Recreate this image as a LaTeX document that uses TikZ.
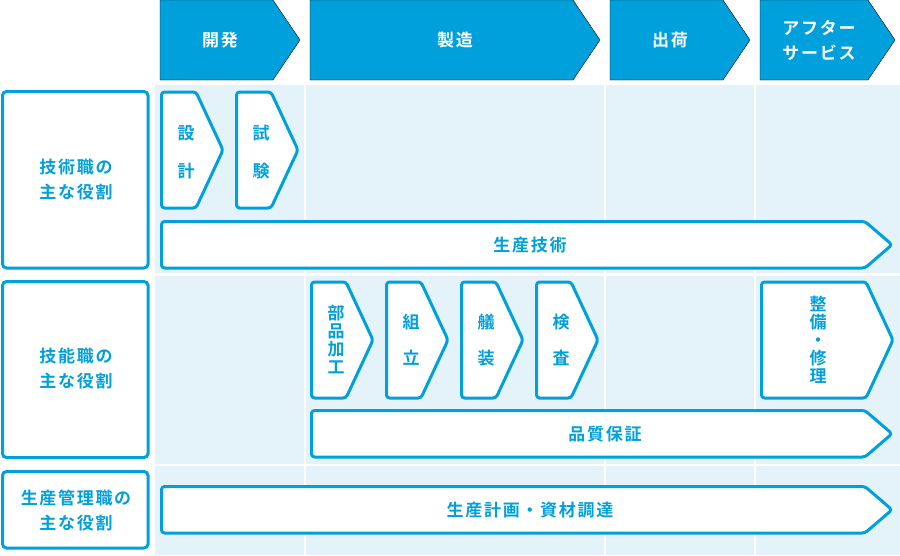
\documentclass[tikz,border=0pt]{standalone}
\usepackage{fontspec}
\setmainfont{Noto Sans CJK JP}[BoldFont={Noto Sans CJK JP Bold},LetterSpace=10]
\definecolor{mainblue}{RGB}{0,160,220}
\definecolor{cellbg}{RGB}{228,242,250}
\tikzset{
  hdr/.style={fill=mainblue},
  chevbox/.style={draw=mainblue,fill=white,line width=3pt,rounded corners=3pt,line join=round},
  labbox/.style={draw=mainblue,fill=white,line width=3pt,rounded corners=4pt},
  hdrtxt/.style={text=white,font=\fontsize{17}{25}\selectfont\bfseries,align=center,inner sep=0pt},
  bluetxt/.style={text=mainblue,font=\fontsize{17}{25}\selectfont\bfseries,align=center,inner sep=0pt},
  vtxt/.style={text=mainblue,font=\fontsize{17}{18}\selectfont\bfseries,align=center,inner sep=0pt},
}
\newcommand{\chevpath}[5][]{% x1 y1 x2 y2
  \draw[#1] (#2,#3) -- ({#4-27},#3) -- (#4,{(#3+#5)/2}) -- ({#4-27},#5) -- (#2,#5) -- cycle;}
\begin{document}
\begin{tikzpicture}[x=1pt,y=-1pt]
\useasboundingbox (0,0) rectangle (900,555);
% background grid
\fill[cellbg] (155,85) rectangle (900,555);
\draw[white,line width=2.2pt] (305,85) -- (305,555) (605,85) -- (605,555) (755,85) -- (755,555);
\draw[white,line width=2.2pt] (155,274.5) -- (900,274.5) (155,465) -- (900,465);
% header arrows
\chevpath[hdr]{160}{0}{300}{80}
\chevpath[hdr]{310}{0}{600}{80}
\chevpath[hdr]{610}{0}{750}{80}
\chevpath[hdr]{760}{0}{895}{80}
\node[hdrtxt] (h1) at (220,40) {開発};
\node[hdrtxt] (h2) at (455,40) {製造};
\node[hdrtxt] (h3) at (670,40) {出荷};
\node[hdrtxt] (h4) at (819,40) {アフター\\サービス};
% left labels
\draw[labbox] (2.5,91.5) rectangle (148,268);
\draw[labbox] (2.5,281.5) rectangle (148,457.5);
\draw[labbox] (2.5,471.5) rectangle (148,548);
\node[bluetxt] (l1) at (76,180) {技術職の\\主な役割};
\node[bluetxt] (l2) at (76,369) {技能職の\\主な役割};
\node[bluetxt] (l3) at (76,510) {生産管理職の\\主な役割};
% row 1
\chevpath[chevbox]{161.5}{92}{223}{208}
\chevpath[chevbox]{236.5}{92}{298}{208}
\node[vtxt] (s1) at (186,152) {設\\[20pt]計};
\node[vtxt] (s2) at (261,152) {試\\[20pt]験};
\chevpath[chevbox]{161.5}{221.5}{892}{268}
\node[bluetxt] (b1) at (530,245) {生産技術};
% row 2
\chevpath[chevbox]{311.5}{282}{373}{398}
\chevpath[chevbox]{386.5}{282}{448}{398}
\chevpath[chevbox]{461.5}{282}{523}{398}
\chevpath[chevbox]{536.5}{282}{598}{398}
\chevpath[chevbox]{761.5}{282}{893}{398}
\node[vtxt] (p1) at (336,340) {部\\品\\加\\工};
\node[vtxt] (p2) at (411,340) {組\\[18pt]立};
\node[vtxt] (p3) at (486,340) {艤\\[18pt]装};
\node[vtxt] (p4) at (561,340) {検\\[18pt]査};
\node[vtxt] (p5) at (818,340) {整\\備\\・\\修\\理};
\chevpath[chevbox]{311.5}{410.5}{892}{457}
\node[bluetxt] (b2) at (605,434) {品質保証};
% row 3
\chevpath[chevbox]{161.5}{486.5}{892}{533}
\node[bluetxt] (b3) at (530,510) {生産計画・資材調達};
\end{tikzpicture}
\end{document}
